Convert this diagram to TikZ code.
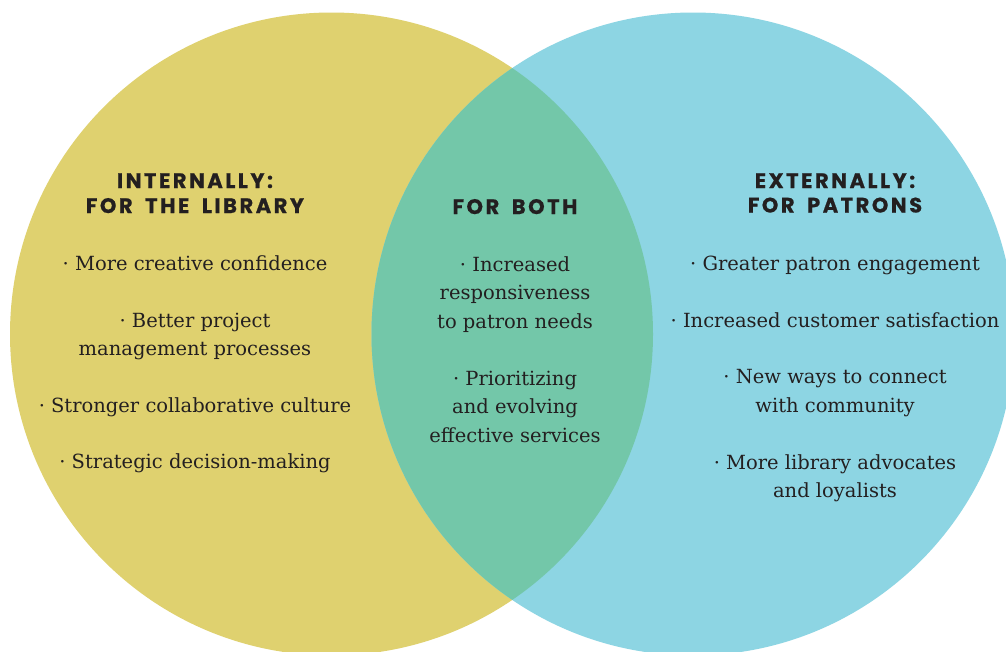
\documentclass[tikz,border=0pt]{standalone}
\usepackage{fontspec}
\setmainfont{DejaVu Serif}
\newfontfamily\headfont[LetterSpace=12,WordSpace=1.8,FakeBold=0.6]{Poppins Bold}
\definecolor{venyellow}{HTML}{DFD16F}
\definecolor{venblue}{HTML}{8DD5E3}
\definecolor{vengreen}{HTML}{73C7A9}
\definecolor{ink}{HTML}{231F20}
\begin{document}
\begin{tikzpicture}[x=1pt,y=-1pt,
  head/.style={anchor=base,inner sep=0pt,text=ink,font=\headfont\fontsize{21}{25}\selectfont},
  body/.style={anchor=base,inner sep=0pt,text=ink,font=\fontsize{19.5}{28.5}\selectfont}]
\useasboundingbox (0,0) rectangle (1006,651);
\fill[white] (0,0) rectangle (1006,651);
\coordinate (cl) at (331.5,334);
\coordinate (cr) at (693,334);
\fill[venyellow] (cl) circle[radius=321.5pt];
\fill[venblue] (cr) circle[radius=321.5pt];
\begin{scope}
\clip (cl) circle[radius=321.5pt];
\fill[vengreen] (cr) circle[radius=321.5pt];
\end{scope}
% left
\node[head] (lh1) at (195,188) {INTERNALLY:};
\node[head] (lh2) at (195,213) {FOR THE LIBRARY};
\node[body] (l1) at (195,270) {· More creative confidence};
\node[body] (l2a) at (195,327) {· Better project};
\node[body] (l2b) at (195,355.5) {management processes};
\node[body] (l3) at (195,412) {· Stronger collaborative culture};
\node[body] (l4) at (195,468.5) {· Strategic decision-making};
% middle
\node[head] (mh) at (515,214) {FOR BOTH};
\node[body] (m1a) at (515,271) {· Increased};
\node[body] (m1b) at (515,299.5) {responsiveness};
\node[body] (m1c) at (515,328) {to patron needs};
\node[body] (m2a) at (515,385) {· Prioritizing};
\node[body] (m2b) at (515,413.5) {and evolving};
\node[body] (m2c) at (515,442) {effective services};
% right
\node[head] (rh1) at (835,188) {EXTERNALLY:};
\node[head] (rh2) at (835,212.5) {FOR PATRONS};
\node[body] (r1) at (835,270) {· Greater patron engagement};
\node[body] (r2) at (835,327) {· Increased customer satisfaction};
\node[body] (r3a) at (835,383.5) {· New ways to connect};
\node[body] (r3b) at (835,412) {with community};
\node[body] (r4a) at (835,469.5) {· More library advocates};
\node[body] (r4b) at (835,497.5) {and loyalists};
\end{tikzpicture}
\end{document}
